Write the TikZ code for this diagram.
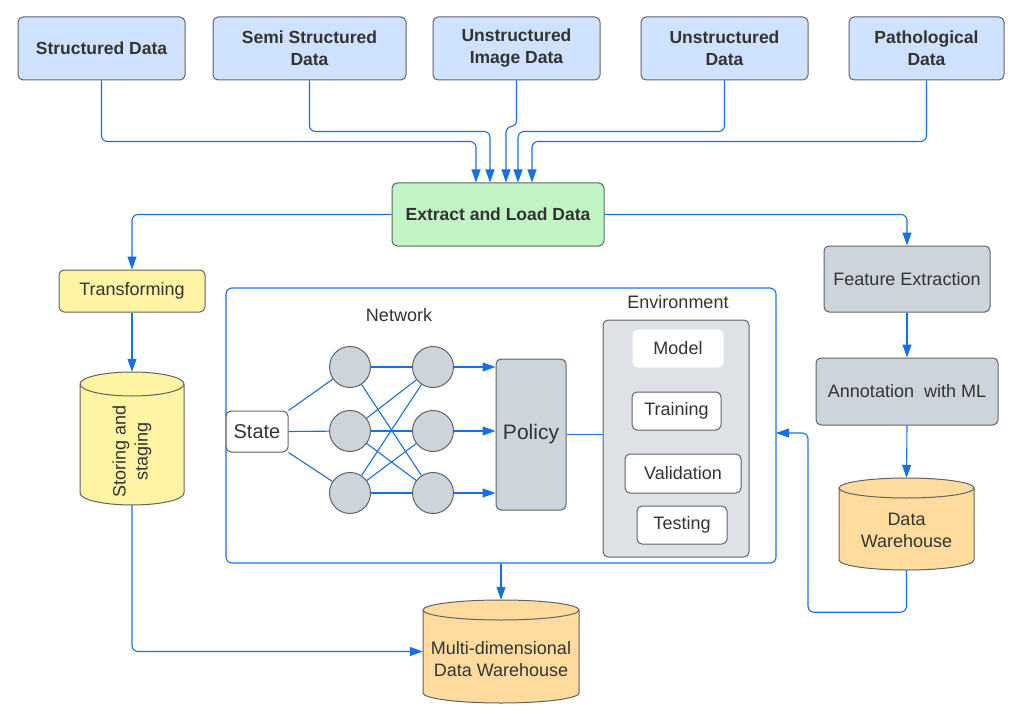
\documentclass[tikz,border=0pt]{standalone}
\usepackage{fontspec}
\setmainfont{Liberation Sans}
\usetikzlibrary{arrows.meta,calc}
\definecolor{linec}{HTML}{1570E8}
\definecolor{bordc}{HTML}{5F6368}
\definecolor{txtc}{HTML}{333333}
\definecolor{lblue}{HTML}{CFE2FF}
\definecolor{lgreen}{HTML}{C2F5C6}
\definecolor{lyellow}{HTML}{FFF4A3}
\definecolor{lgrey}{HTML}{CED4DC}
\definecolor{envc}{HTML}{DEE2E6}
\definecolor{lorange}{HTML}{FFDB9E}
\newcommand{\drawcyl}[7]{%
  \path[draw=bordc, fill=#7, line width=1pt]
    ({#2-#4/2},{#3-#5/2+#6}) -- ({#2-#4/2},{#3+#5/2-#6})
    arc[start angle=180,end angle=360,x radius={(#4/2)*1pt},y radius={#6*1pt}]
    -- ({#2+#4/2},{#3-#5/2+#6})
    arc[start angle=0,end angle=180,x radius={(#4/2)*1pt},y radius={#6*1pt}] -- cycle;
  \path[draw=bordc, line width=1pt] ({#2-#4/2},{#3-#5/2+#6})
    arc[start angle=180,end angle=360,x radius={(#4/2)*1pt},y radius={#6*1pt}];
  \node[minimum width=#4pt, minimum height=#5pt, inner sep=0pt] (#1) at (#2,#3) {};
}
\tikzset{
  base/.style={draw=bordc, line width=1pt, rounded corners=5pt, text=txtc,
    font=\fontsize{18}{22}\selectfont, align=center, inner sep=0pt},
  topbox/.style={base, fill=lblue, font=\bfseries\fontsize{17.5}{22}\selectfont, minimum height=63pt},
  whitebox/.style={base, fill=white, font=\fontsize{18}{22}\selectfont},
  neuron/.style={circle, draw=bordc, fill=lgrey, line width=1pt, minimum size=41pt, inner sep=0pt},
  lbl/.style={text=txtc, font=\fontsize{18}{22}\selectfont, align=center, inner sep=0pt},
  conn/.style={draw=linec, line width=1.1pt, rounded corners=6pt},
  arr/.style={conn, -{Triangle[width=9pt,length=13pt]}},
}
\begin{document}
\begin{tikzpicture}[x=1pt,y=-1pt]
\useasboundingbox (0,0) rectangle (1009,714);
% top sources
\node[topbox, minimum width=167pt] (sd) at (101.5,48.5) {Structured Data};
\node[topbox, minimum width=193pt] (ssd) at (309.5,48.5) {Semi Structured\\Data};
\node[topbox, minimum width=167pt] (uid) at (516.5,48.5) {Unstructured\\Image Data};
\node[topbox, minimum width=167pt] (ud) at (724.5,48.5) {Unstructured\\Data};
\node[topbox, minimum width=155pt] (pd) at (926.5,48.5) {Pathological\\Data};
% extract
\node[base, fill=lgreen, font=\bfseries\fontsize{17.5}{22}\selectfont, minimum width=212pt, minimum height=63pt] (ext) at (498,214.5) {Extract and Load Data};
\coordinate (e1) at ($(ext.north)+(-22,0)$);
\coordinate (e2) at ($(ext.north)+(-8,0)$);
\coordinate (e3) at ($(ext.north)+(8,0)$);
\coordinate (e4) at ($(ext.north)+(20,0)$);
\coordinate (e5) at ($(ext.north)+(34,0)$);
\draw[arr] (sd.south) |- ($(e1)+(0,-41)$) -- (e1);
\draw[arr] (ssd.south) |- ($(e2)+(0,-51)$) -- (e2);
\draw[arr] (uid.south) -- ++(0,46) -| (e3);
\draw[arr] (ud.south) |- ($(e4)+(0,-51)$) -- (e4);
\draw[arr] (pd.south) |- ($(e5)+(0,-41)$) -- (e5);
% left branch
\node[base, fill=lyellow, minimum width=146pt, minimum height=42pt] (trans) at (132,291) {Transforming};
\drawcyl{store}{132}{438.5}{104}{133}{12}{lyellow}
\node[lbl, rotate=90] (storet) at (132,451) {Storing and\\staging};
% right branch
\node[base, fill=lgrey, minimum width=166pt, minimum height=66pt] (feat) at (907,279) {Feature Extraction};
\node[base, fill=lgrey, minimum width=182pt, minimum height=67pt] (ann) at (907,391.5) {Annotation~ with ML};
\drawcyl{dw}{906.5}{524}{135}{92}{10}{lorange}
\node[lbl] (dwt) at (906.5,530) {Data\\Warehouse};
% bottom warehouse
\drawcyl{mdw}{501}{651.5}{156}{103}{10}{lorange}
\node[lbl] (mdwt) at (501,659) {Multi-dimensional\\Data Warehouse};
% system box
\node[draw=linec, line width=1.1pt, rounded corners=6pt, minimum width=550pt, minimum height=275pt, inner sep=0pt] (sys) at (501,425.5) {};
\node[lbl] (netl) at (399,315) {Network};
\node[lbl] (envl) at (678,302) {Environment};
\node[draw=bordc, fill=envc, line width=1pt, rounded corners=5pt, minimum width=146pt, minimum height=237pt] (env) at (676,438.5) {};
\node[whitebox, draw=white, minimum width=90pt, minimum height=37pt] (model) at (678,348.5) {Model};
\node[whitebox, minimum width=89pt, minimum height=38pt] (train) at (676.5,411) {Training};
\node[whitebox, minimum width=116pt, minimum height=39pt] (valid) at (683,473.5) {Validation};
\node[whitebox, minimum width=90pt, minimum height=38pt] (test) at (682,525) {Testing};
\node[base, fill=lgrey, font=\fontsize{21}{24}\selectfont, minimum width=70pt, minimum height=151pt] (pol) at (531,434.5) {Policy};
\node[whitebox, font=\fontsize{20}{24}\selectfont, minimum width=62pt, minimum height=41pt] (st) at (257,431.5) {State};
\node[neuron] (c1) at (350,367) {};
\node[neuron] (c2) at (350,431) {};
\node[neuron] (c3) at (350,493) {};
\node[neuron] (c4) at (433,367) {};
\node[neuron] (c5) at (433,431) {};
\node[neuron] (c6) at (433,493) {};
\draw[conn] (st.north east) -- (c1);
\draw[conn] (st.east) -- (c2);
\draw[conn] (st.south east) -- (c3);
\draw[conn] (c1) -- (c4);
\draw[conn] (c1) -- (c6);
\draw[conn] (c2) -- (c4);
\draw[conn] (c2) -- (c5);
\draw[conn] (c2) -- (c6);
\draw[conn] (c3) -- (c4);
\draw[conn] (c3) -- (c5);
\draw[conn] (c3) -- (c6);
\draw[arr] (c4) -- (c4 -| pol.west);
\draw[arr] (c5) -- (c5 -| pol.west);
\draw[arr] (c6) -- (c6 -| pol.west);
\draw[conn] (pol.east) -- (pol.east -| env.west);
% flows
\draw[arr] (ext.west) -| (trans.north);
\draw[arr] (ext.east) -| (feat.north);
\draw[arr] (feat.south) -- (ann.north);
\draw[arr] (ann.south) -- (dw.north);
\draw[arr] (trans.south) -- (store.north);
\draw[arr] (store.south) |- (mdw.west);
\draw[arr] (sys.south) -- (mdw.north);
\coordinate (fbin) at (776,433);
\draw[arr] (dw.south) -- ++(0,42) -| ($(fbin)+(32,0)$) -- (fbin);
\end{tikzpicture}
\end{document}
